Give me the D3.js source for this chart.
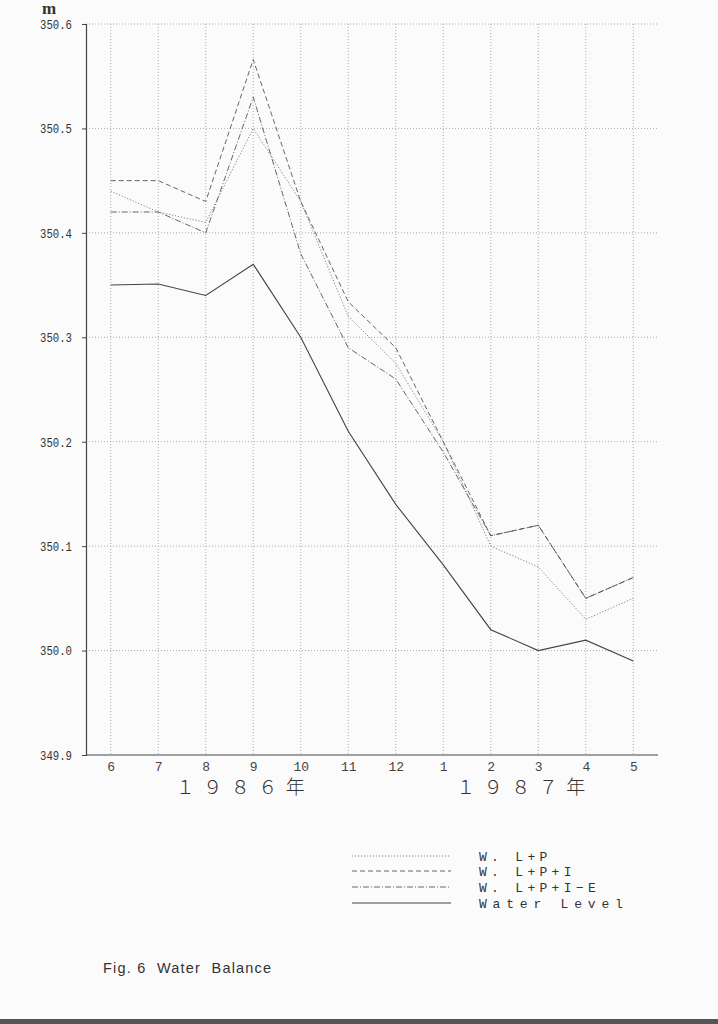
<!DOCTYPE html>
<html><head><meta charset="utf-8">
<script src="https://cdn.jsdelivr.net/npm/d3@7"></script>
<style>
html,body{margin:0;padding:0;background:#fcfbfc;}
svg{display:block;}
</style></head>
<body>
<script>
const months = ["6","7","8","9","10","11","12","1","2","3","4","5"];
const yTicks = [349.9, 350.0, 350.1, 350.2, 350.3, 350.4, 350.5, 350.6];
const wlp     = [350.44, 350.42, 350.41, 350.50, 350.43, 350.32, 350.275, 350.20, 350.10, 350.08, 350.03, 350.05];
const wlpi    = [350.45, 350.45, 350.43, 350.566, 350.43, 350.334, 350.29, 350.20, 350.11, 350.12, 350.05, 350.07];
const wlpie   = [350.42, 350.42, 350.40, 350.53, 350.38, 350.29, 350.26, 350.19, 350.11, 350.12, 350.05, 350.07];
const waterLevel = [350.35, 350.351, 350.34, 350.37, 350.30, 350.21, 350.14, 350.082, 350.02, 350.00, 350.01, 349.99];
const seriesNames = ["W. L+P", "W. L+P+I", "W. L+P+I\u2212E", "Water Level"];
const years = ["１９８６年", "１９８７年"];
const caption = "Fig. 6  Water  Balance";

(function(){
const W = 718, H = 1024;
const svg = d3.select("body").append("svg").attr("width", W).attr("height", H);
svg.append("rect").attr("width", W).attr("height", H).attr("fill", "#fcfbfc");
svg.append("rect").attr("x", 0).attr("y", 1019).attr("width", W).attr("height", 5).attr("fill", "#555");

const pl = 86, pr = 658, pt = 24, pb = 755;
const x = d3.scalePoint().domain(months).range([pl, pr]).padding(0.52);
const y = d3.scaleLinear().domain([349.9, 350.6]).range([pb, pt]);

const mono = "'Liberation Mono','DejaVu Sans Mono',monospace";

// grid
const g = svg.append("g");
g.selectAll("line.hg").data(yTicks.slice(1)).join("line")
  .attr("x1", pl).attr("x2", pr)
  .attr("y1", d => y(d)).attr("y2", d => y(d))
  .attr("stroke", "#9a9a9a").attr("stroke-width", 0.8).attr("stroke-dasharray", "1,2");
g.selectAll("line.vg").data(months).join("line")
  .attr("x1", d => x(d)).attr("x2", d => x(d))
  .attr("y1", pt).attr("y2", pb)
  .attr("stroke", "#9a9a9a").attr("stroke-width", 0.8).attr("stroke-dasharray", "1,2");

// axes
const yAxis = d3.axisLeft(y).tickValues(yTicks).tickSize(4).tickFormat(d3.format(".1f"));
const ya = svg.append("g").attr("transform", `translate(${pl},0)`).call(yAxis);
ya.select(".domain").attr("stroke", "#444").attr("stroke-width", 1.2);
ya.selectAll(".tick line").attr("stroke", "#444");
ya.selectAll(".tick text").attr("font-family", mono).attr("font-size", 12.5).attr("fill", "#333")
  .attr("x", -14).attr("dy", "0.35em").attr("textLength", 32).attr("lengthAdjust", "spacingAndGlyphs");

const xAxis = d3.axisBottom(x).tickSize(0);
const xa = svg.append("g").attr("transform", `translate(0,${pb})`).call(xAxis);
xa.select(".domain").attr("stroke", "#444").attr("stroke-width", 1.2).attr("d", `M${pl},0H${pr}`);
xa.selectAll(".tick text").attr("font-family", mono).attr("font-size", 13).attr("fill", "#444")
  .attr("y", 7).attr("dy", "0.71em");

svg.append("text").attr("x", 42).attr("y", 14).text("m")
  .attr("font-family", "'Liberation Serif',serif").attr("font-size", 17).attr("font-weight", "bold").attr("fill", "#333");

// year labels
const yearPos = [x("6") + 65, x("1") + 13];
svg.selectAll("text.year").data(years).join("text")
  .attr("x", (d, i) => yearPos[i]).attr("y", 794)
  .attr("font-family", "'Noto Sans CJK JP',sans-serif").attr("font-size", 19).attr("font-weight", 300)
  .attr("letter-spacing", 8.5)
  .attr("fill", "#333").text(d => d);

// lines
const styles = [
  {data: wlp, dash: "1.2,1.8", color: "#777", w: 0.9},
  {data: wlpi, dash: "5,3", color: "#555", w: 0.9},
  {data: wlpie, dash: "6,2,1,2", color: "#555", w: 0.9},
  {data: waterLevel, dash: null, color: "#444", w: 1.1}
];
const line = d3.line().x((d, i) => x(months[i])).y(d => y(d));
svg.selectAll("path.series").data(styles).join("path")
  .attr("d", d => line(d.data)).attr("fill", "none")
  .attr("stroke", d => d.color).attr("stroke-width", d => d.w)
  .attr("stroke-dasharray", d => d.dash);

// legend
const legY = [856, 871, 887, 903];
const lg = svg.append("g");
lg.selectAll("line").data(styles).join("line")
  .attr("x1", 352).attr("x2", 451)
  .attr("y1", (d, i) => legY[i]).attr("y2", (d, i) => legY[i])
  .attr("stroke", d => d.color).attr("stroke-width", d => d.w)
  .attr("stroke-dasharray", d => d.dash);
lg.selectAll("text").data(seriesNames).join("text")
  .attr("x", 479).attr("y", (d, i) => legY[i]).attr("dy", "0.35em")
  .attr("font-family", mono).attr("font-size", 13).attr("letter-spacing", (d, i) => i === 3 ? 5.8 : 4.3)
  .attr("fill", "#333").text(d => d);

svg.append("text").attr("x", 103).attr("y", 973).text(caption)
  .attr("font-family", "'Liberation Sans',Arial,sans-serif").attr("font-size", 14.5)
  .attr("letter-spacing", 1.2)
  .attr("fill", "#333").attr("xml:space", "preserve");
})();
</script>
</body></html>
